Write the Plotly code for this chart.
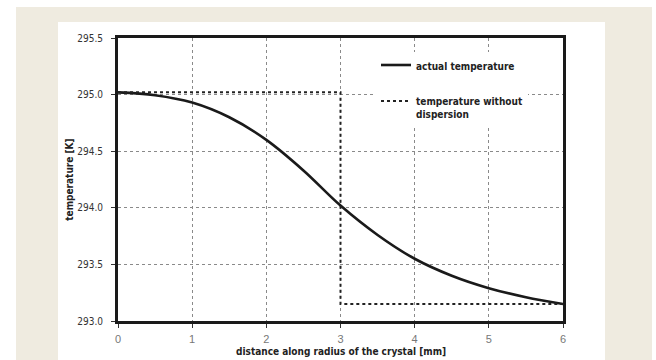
import plotly.graph_objects as go

# Radial temperature profile across the crystal
distance_mm = [0, 0.5, 1.0, 1.5, 2.0, 2.5, 3.0, 3.5, 4.0, 4.5, 5.0, 5.5, 6.0]
actual_temp_K = [295.02, 294.995, 294.93, 294.80, 294.60, 294.33, 294.02,
                 293.76, 293.55, 293.40, 293.29, 293.21, 293.15]

# Step profile without dispersion
step_distance_mm = [0, 3, 3, 6]
step_temp_K = [295.02, 295.02, 293.15, 293.15]

x_ticks = [0, 1, 2, 3, 4, 5, 6]
y_ticks = [293.0, 293.5, 294.0, 294.5, 295.0, 295.5]

x_title = "distance along radius of the crystal [mm]"
y_title = "temperature [K]"

BOLD = "DejaVu Sans Condensed, Liberation Sans Narrow, Arial Narrow, sans-serif"
REG = "Liberation Sans, Arial, sans-serif"

fig = go.Figure()
fig.add_trace(go.Scatter(
    x=distance_mm, y=actual_temp_K, mode="lines",
    line=dict(color="#1a1a1a", width=2.6, shape="spline", smoothing=1.0),
    name="<b>actual temperature</b>", legendgroup="a",
))
fig.add_trace(go.Scatter(
    x=step_distance_mm, y=step_temp_K, mode="lines",
    line=dict(color="#222222", width=2, dash="dot"),
    name="<b>temperature without<br>dispersion</b>", legendgroup="b",
))

# Plot area occupies px x 118..563, y 38..321 of a 656x360 page
L, R, T, B = 118, 563, 38, 321
W, H = R - L, B - T


def px_x(p):
    return (p - L) / W


def px_y(p):
    return (B - p) / H


shapes = [
    dict(type="rect", xref="paper", yref="paper", layer="below",
         x0=px_x(16), x1=px_x(652), y0=px_y(380), y1=px_y(7),
         fillcolor="#efebe0", line=dict(width=0)),
    dict(type="rect", xref="paper", yref="paper", layer="below",
         x0=px_x(58), x1=px_x(605), y0=px_y(380), y1=px_y(22),
         fillcolor="#ffffff", line=dict(width=0)),
]

# x-axis title placed low, just above the bottom edge of the page
annotations = [
    dict(text=f"<b>{x_title}</b>", xref="paper", yref="paper",
         x=0.5, y=px_y(359), xanchor="center", yanchor="bottom",
         showarrow=False, font=dict(family=BOLD, size=10, color="#222222")),
]

fig.update_layout(
    width=656, height=360,
    margin=dict(l=L, r=656 - R, t=T, b=360 - B),
    paper_bgcolor="#ffffff", plot_bgcolor="#ffffff",
    shapes=shapes,
    annotations=annotations,
    showlegend=True,
    legend=dict(
        x=px_x(376), y=px_y(52), xanchor="left", yanchor="top",
        bgcolor="#ffffff", borderwidth=0,
        font=dict(family=BOLD, size=10, color="#222222"),
        traceorder="grouped", tracegroupgap=17, valign="top",
    ),
    xaxis=dict(
        range=[0, 6], tickvals=x_ticks, ticktext=[str(v) for v in x_ticks],
        showline=True, linecolor="#1a1a1a", linewidth=3, mirror=True,
        ticks="outside", ticklen=4, tickcolor="#333333",
        showgrid=True, gridcolor="#8a8a8a", gridwidth=1, griddash="dot",
        zeroline=False, automargin=False,
        tickfont=dict(family=REG, size=11, color="#777777"),
        ticklabelstandoff=2,
    ),
    yaxis=dict(
        range=[293.0, 295.5], tickvals=y_ticks, ticktext=[f"{v:.1f}" for v in y_ticks],
        showline=True, linecolor="#1a1a1a", linewidth=3, mirror=True,
        ticks="outside", ticklen=4, tickcolor="#333333",
        showgrid=True, gridcolor="#8a8a8a", gridwidth=1, griddash="dot",
        zeroline=False, automargin=False,
        tickfont=dict(family=BOLD, size=10, color="#333333"),
        ticklabelstandoff=6,
        title=dict(text=f"<b>{y_title}</b>",
                   font=dict(family=BOLD, size=10, color="#222222"), standoff=2),
    ),
)

fig.write_html("out.html")
